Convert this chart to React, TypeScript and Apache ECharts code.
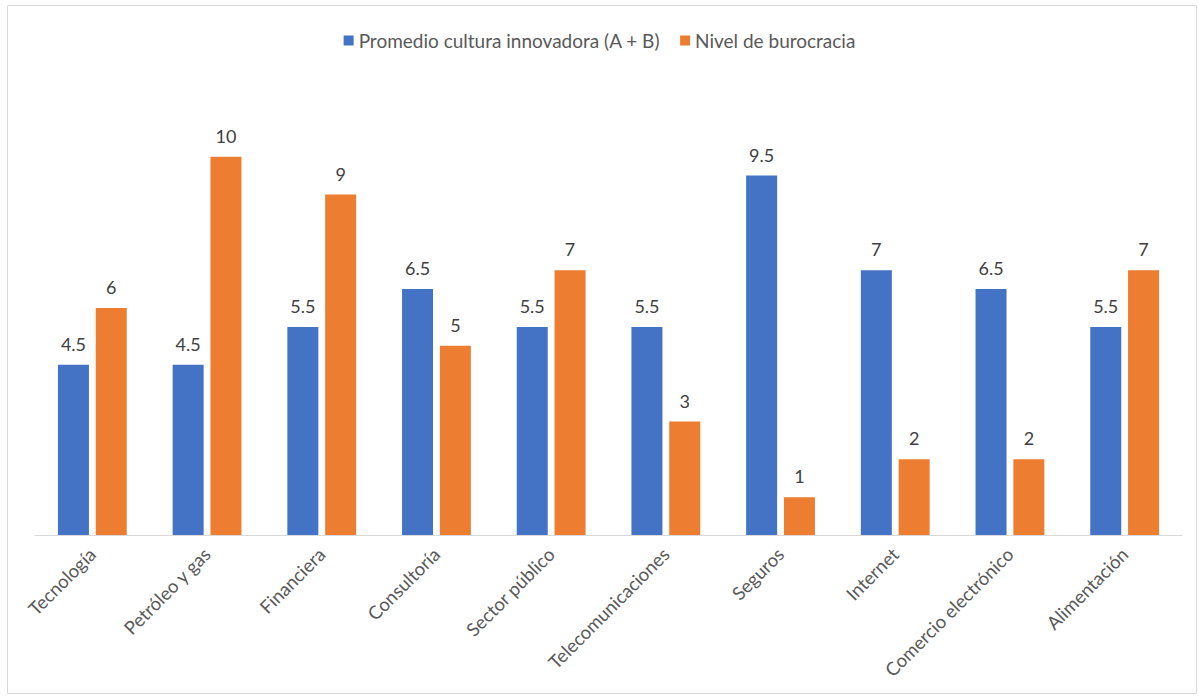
import React, { useEffect, useRef } from "react";
import * as echarts from "echarts";

const categories = [
  "Tecnología",
  "Petróleo y gas",
  "Financiera",
  "Consultoría",
  "Sector público",
  "Telecomunicaciones",
  "Seguros",
  "Internet",
  "Comercio electrónico",
  "Alimentación",
];
const innovacion = [4.5, 4.5, 5.5, 6.5, 5.5, 5.5, 9.5, 7, 6.5, 5.5];
const burocracia = [6, 10, 9, 5, 7, 3, 1, 2, 2, 7];
const seriesNames = ["Promedio cultura innovadora (A + B)", "Nivel de burocracia"];

const FONT = "Lato, Carlito, Liberation Sans, sans-serif";

export default function App() {
  const ref = useRef<HTMLDivElement>(null);
  useEffect(() => {
    const chart = echarts.init(ref.current!, null, { renderer: "svg" });
    const labelStyle = {
      show: true,
      position: "top" as const,
      distance: 12,
      color: "#404040",
      fontSize: 18,
      fontFamily: FONT,
    };
    chart.setOption({
      animation: false,
      backgroundColor: "#ffffff",
      graphic: [
        {
          type: "rect",
          shape: { x: 7.5, y: 5.5, width: 1189, height: 688 },
          style: { fill: "none", stroke: "#d9d9d9", lineWidth: 1 },
          silent: true,
        },
      ],
      legend: {
        top: 26,
        left: "center",
        itemWidth: 10,
        itemHeight: 10,
        itemGap: 20,
        icon: "rect",
        textStyle: {
          color: "#595959",
          fontSize: 19,
          fontFamily: FONT,
        },
        data: seriesNames,
      },
      grid: { left: 35, right: 17, top: 81, bottom: 162, containLabel: false },
      xAxis: {
        type: "category",
        data: categories,
        axisLine: { lineStyle: { color: "#d9d9d9", width: 1 } },
        axisTick: { show: false },
        axisLabel: {
          rotate: 45,
          interval: 0,
          margin: 16,
          color: "#595959",
          fontSize: 18.5,
          fontFamily: FONT,
        },
      },
      yAxis: {
        type: "value",
        min: 0,
        max: 12,
        interval: 2,
        show: false,
        splitLine: { show: false },
      },
      series: [
        {
          name: seriesNames[0],
          type: "bar",
          data: innovacion,
          itemStyle: { color: "#4472C4" },
          barWidth: 31,
          barGap: "22%",
          label: labelStyle,
        },
        {
          name: seriesNames[1],
          type: "bar",
          data: burocracia,
          itemStyle: { color: "#ED7D31" },
          barWidth: 31,
          label: labelStyle,
        },
      ],
    });
    return () => chart.dispose();
  }, []);
  return (
    <div
      ref={ref}
      style={{ position: "fixed", left: 0, top: 0, width: 1199, height: 697 }}
    />
  );
}
